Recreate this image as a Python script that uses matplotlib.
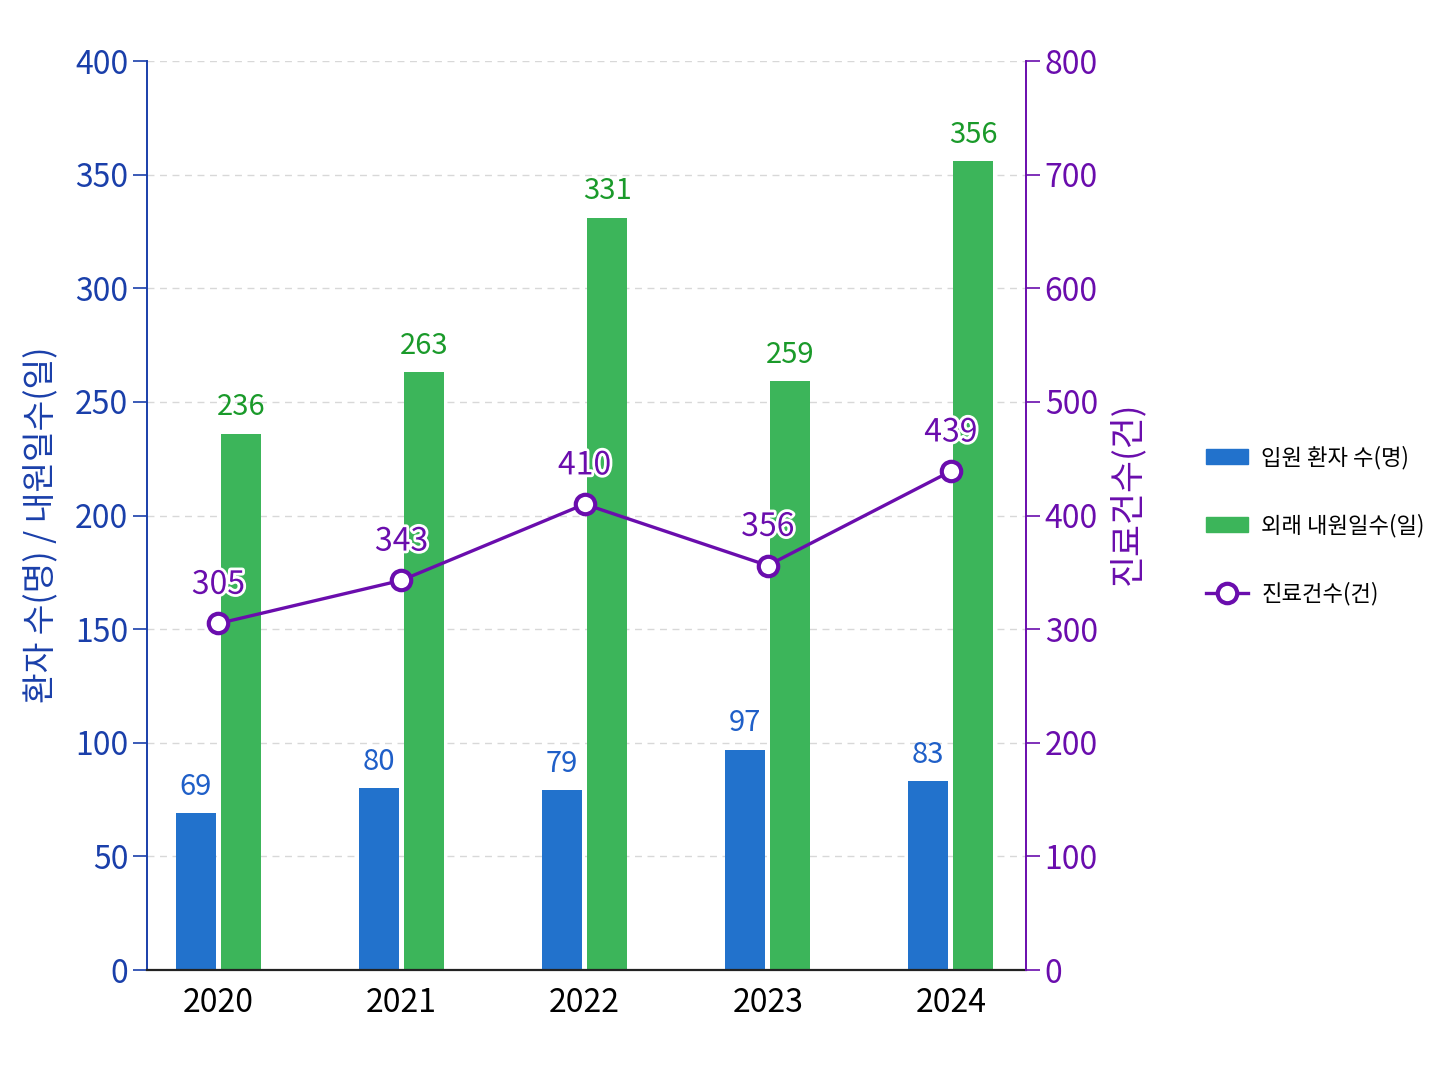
import numpy as np
import matplotlib.pyplot as plt
import matplotlib.patheffects as pe
from matplotlib.lines import Line2D
from matplotlib.patches import Patch

plt.rcParams['font.family'] = ['Noto Sans CJK KR', 'DejaVu Sans']

years = ['2020', '2021', '2022', '2023', '2024']
inpatients = [69, 80, 79, 97, 83]
visit_days = [236, 263, 331, 259, 356]
cases = [305, 343, 410, 356, 439]

c_blue = '#2272cc'
c_green = '#3cb55a'
c_purple = '#6a0dad'
c_axblue = '#1a3faa'

fig = plt.figure(figsize=(14.48, 10.86), dpi=100)
ax = fig.add_axes([0.1015, 0.1068, 0.607, 0.837])
ax2 = ax.twinx()

x = np.arange(len(years))
w = 0.22
ax.bar(x - 0.123, inpatients, w, color=c_blue, zorder=2)
ax.bar(x + 0.123, visit_days, w, color=c_green, zorder=2)

for xi, v in zip(x, inpatients):
    ax.text(xi - 0.123, v + 5, str(v), ha='center', va='bottom', fontsize=21, color='#1f5fc8')
for xi, v in zip(x, visit_days):
    ax.text(xi + 0.123, v + 5, str(v), ha='center', va='bottom', fontsize=21, color='#1a9a2a')

ax2.plot(x, cases, color=c_purple, lw=2.4, marker='o', ms=14, mfc='white', mec=c_purple, mew=3, zorder=5)
for xi, v in zip(x, cases):
    ax2.text(xi, v + 20, str(v), ha='center', va='bottom', fontsize=23, color=c_purple,
             path_effects=[pe.withStroke(linewidth=4, foreground='white')])

ax.set_xlim(-0.39, 4.41)
ax.set_ylim(0, 400)
ax2.set_ylim(0, 800)
ax.set_yticks(np.arange(0, 401, 50))
ax2.set_yticks(np.arange(0, 801, 100))
ax.set_xticks(x)
ax.set_xticklabels(years, fontsize=23)
ax.tick_params(axis='x', length=0, pad=12)
ax.tick_params(axis='y', colors=c_axblue, labelsize=23, length=10, width=1.2)
ax2.tick_params(axis='y', colors=c_purple, labelsize=23, length=10, width=1.2)

ax.yaxis.grid(True, color='#d8d8d8', linestyle=(0, (5, 4)), lw=1)
ax.set_axisbelow(True)

for a in (ax, ax2):
    a.spines['top'].set_visible(False)
ax.spines['left'].set_color(c_axblue)
ax.spines['left'].set_linewidth(1.4)
ax.spines['right'].set_visible(False)
ax2.spines['left'].set_visible(False)
ax2.spines['bottom'].set_visible(False)
ax2.spines['right'].set_color(c_purple)
ax2.spines['right'].set_linewidth(1.4)
ax.spines['bottom'].set_color('#222222')
ax.spines['bottom'].set_linewidth(1.6)

ax.set_ylabel('환자 수(명) / 내원일수(일)', fontsize=24, color=c_axblue)
ax.yaxis.set_label_coords(-0.1, 0.49)
ax2.set_ylabel('진료건수(건)', fontsize=25, color=c_purple)
ax2.yaxis.set_label_coords(1.095, 0.525)

handles = [Patch(color=c_blue), Patch(color=c_green),
           Line2D([], [], color=c_purple, lw=2.4, marker='o', ms=14, mfc='white', mec=c_purple, mew=3)]
labels = ['입원 환자 수(명)', '외래 내원일수(일)', '진료건수(건)']
fig.legend(handles, labels, loc='center left', bbox_to_anchor=(0.819, 0.516), frameon=False,
           prop={'size': 16}, labelspacing=2.0, handlelength=1.9, handletextpad=0.6)

fig.savefig('out.png', dpi=100, facecolor='white')
